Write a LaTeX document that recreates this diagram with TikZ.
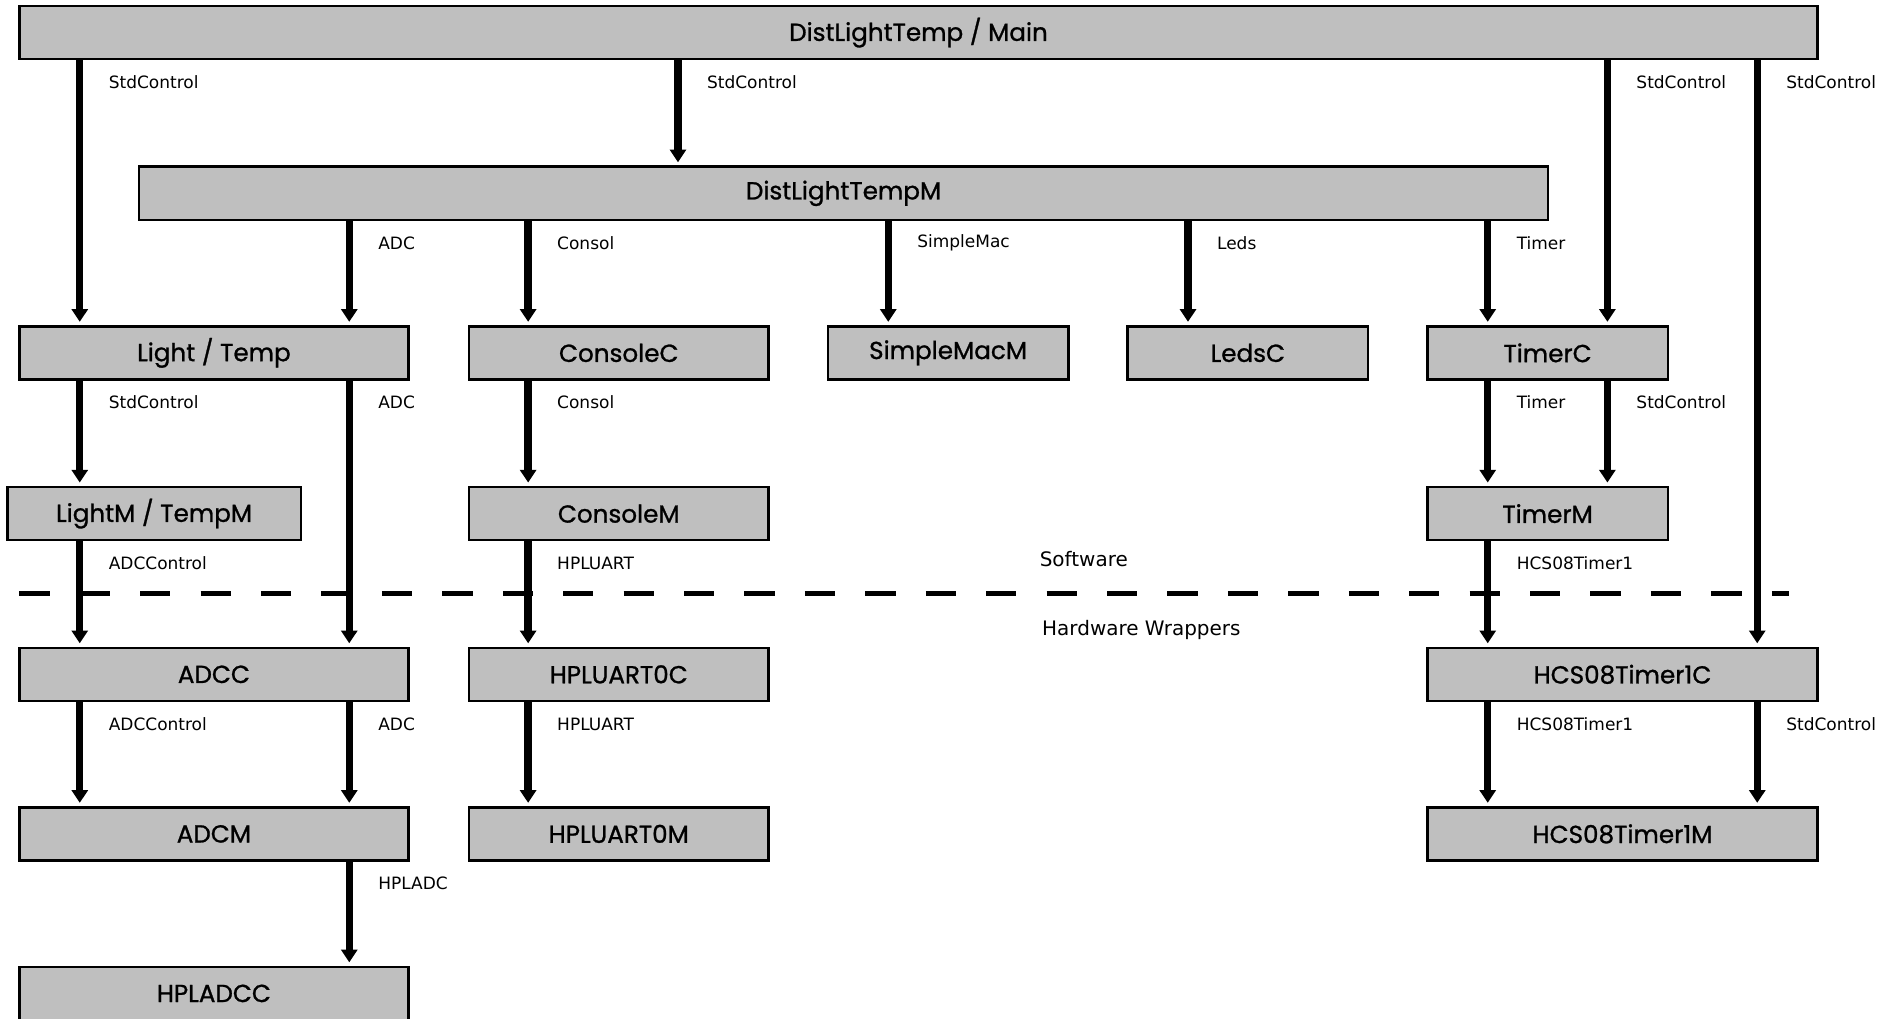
\documentclass[tikz,border=0pt]{standalone}
\usepackage{fontspec}
\setmainfont{DejaVu Sans}
\newfontfamily\boxfont{Poppins}[FakeBold=1]
\usetikzlibrary{arrows.meta}

\begin{document}
\begin{tikzpicture}[
		box/.style={draw, line width=1.2pt, fill=black!25, minimum height=0.88cm, inner sep=0pt, font=\boxfont\fontsize{11.6}{13}\selectfont},
		conn/.style={line width=3.5pt, -{Triangle[width=7.5pt,length=6pt]}, shorten >=1.5pt},
		lbl/.style={anchor=west, inner sep=0pt, xshift=0.42cm, yshift=-0.36cm, font=\fontsize{8}{9}\selectfont},
		layer/.style={anchor=west, inner sep=0pt, font=\fontsize{9.4}{11}\selectfont}
	]
		\useasboundingbox (0,0) rectangle (31.36,16.86);
		
		% Columns of the wires
		\coordinate (c1) at (1.32,0);
		\coordinate (c2) at (5.78,0);
		\coordinate (c3) at (8.74,0);
		\coordinate (c4) at (11.22,0);
		\coordinate (c5) at (14.70,0);
		\coordinate (c6) at (19.66,0);
		\coordinate (c7) at (24.62,0);
		\coordinate (c8) at (26.60,0);
		\coordinate (c9) at (29.08,0);
		
		% Software / hardware border
		\draw[line width=2.2pt, dash pattern=on 0.5cm off 0.5cm] (0.32,7.04) -- (29.6,7.04);
		\node[layer] (sw) at (17.20,7.60) {Software};
		\node[layer] (hw) at (17.24,6.44) {Hardware Wrappers};
		
		% Components
		\node[box, minimum width=29.76cm] (main) at (15.20,16.32) {DistLightTemp / Main};
		\node[box, minimum width=23.32cm] (dltm) at (13.96,13.66) {DistLightTempM};
		
		\node[box, minimum width=6.44cm] (lt) at (3.54,11.02) {Light / Temp};
		\node[box, minimum width=4.96cm] (conc) at (10.24,11.02) {ConsoleC};
		\node[box, minimum width=3.98cm] (mac) at (15.69,11.02) {SimpleMacM};
		\node[box, minimum width=3.98cm] (leds) at (20.65,11.02) {LedsC};
		\node[box, minimum width=3.98cm] (tmc) at (25.61,11.02) {TimerC};
		
		\node[box, minimum width=4.86cm] (ltm) at (2.55,8.36) {LightM / TempM};
		\node[box, minimum width=4.96cm] (conm) at (10.24,8.36) {ConsoleM};
		\node[box, minimum width=3.98cm] (tmm) at (25.61,8.36) {TimerM};
		
		\node[box, minimum width=6.44cm] (adcc) at (3.54,5.70) {ADCC};
		\node[box, minimum width=4.96cm] (uartc) at (10.24,5.70) {HPLUART0C};
		\node[box, minimum width=6.46cm] (hcsc) at (26.85,5.70) {HCS08Timer1C};
		
		\node[box, minimum width=6.44cm] (adcm) at (3.54,3.06) {ADCM};
		\node[box, minimum width=4.96cm] (uartm) at (10.24,3.06) {HPLUART0M};
		\node[box, minimum width=6.46cm] (hcsm) at (26.85,3.06) {HCS08Timer1M};
		
		\node[box, minimum width=6.44cm] (hpladc) at (3.54,0.42) {HPLADCC};
		
		% Wiring from Main
		\draw[conn] (main.south -| c1) node[lbl] {StdControl} -- (lt.north -| c1);
		\draw[conn] (main.south -| c4) node[lbl] {StdControl} -- (dltm.north -| c4);
		\draw[conn] (main.south -| c8) node[lbl] {StdControl} -- (tmc.north -| c8);
		\draw[conn] (main.south -| c9) node[lbl] {StdControl} -- (hcsc.north -| c9);
		
		% Wiring from DistLightTempM
		\draw[conn] (dltm.south -| c2) node[lbl] {ADC} -- (lt.north -| c2);
		\draw[conn] (dltm.south -| c3) node[lbl] {Consol} -- (conc.north -| c3);
		\draw[conn] (dltm.south -| c5) node[lbl] {SimpleMac} -- (mac.north -| c5);
		\draw[conn] (dltm.south -| c6) node[lbl] {Leds} -- (leds.north -| c6);
		\draw[conn] (dltm.south -| c7) node[lbl] {Timer} -- (tmc.north -| c7);
		
		% Lower wiring
		\draw[conn] (lt.south -| c1) node[lbl] {StdControl} -- (ltm.north -| c1);
		\draw[conn] (lt.south -| c2) node[lbl] {ADC} -- (adcc.north -| c2);
		\draw[conn] (conc.south -| c3) node[lbl] {Consol} -- (conm.north -| c3);
		\draw[conn] (tmc.south -| c7) node[lbl] {Timer} -- (tmm.north -| c7);
		\draw[conn] (tmc.south -| c8) node[lbl] {StdControl} -- (tmm.north -| c8);
		
		\draw[conn] (ltm.south -| c1) node[lbl] {ADCControl} -- (adcc.north -| c1);
		\draw[conn] (conm.south -| c3) node[lbl] {HPLUART} -- (uartc.north -| c3);
		\draw[conn] (tmm.south -| c7) node[lbl] {HCS08Timer1} -- (hcsc.north -| c7);
		
		\draw[conn] (adcc.south -| c1) node[lbl] {ADCControl} -- (adcm.north -| c1);
		\draw[conn] (adcc.south -| c2) node[lbl] {ADC} -- (adcm.north -| c2);
		\draw[conn] (uartc.south -| c3) node[lbl] {HPLUART} -- (uartm.north -| c3);
		\draw[conn] (hcsc.south -| c7) node[lbl] {HCS08Timer1} -- (hcsm.north -| c7);
		\draw[conn] (hcsc.south -| c9) node[lbl] {StdControl} -- (hcsm.north -| c9);
		
		\draw[conn] (adcm.south -| c2) node[lbl] {HPLADC} -- (hpladc.north -| c2);
	\end{tikzpicture}
\end{document}
